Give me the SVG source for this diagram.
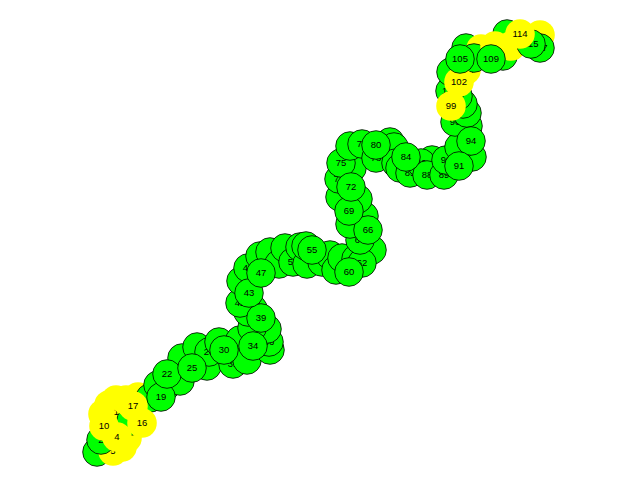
<svg xmlns="http://www.w3.org/2000/svg" width="640" height="480" viewBox="0 0 640 480">
<style>
.g{fill:#00ff00;stroke:#000;stroke-width:0.8}
.y{fill:#ffff00;stroke:none}
text{font-family:"Liberation Sans",Arial,sans-serif;font-size:9.5px;text-anchor:middle;fill:#000}
</style>
<rect width="640" height="480" fill="#fff"/>
<g id="connectors"></g>
<g id="nodes">
<g id="n1"><circle class="g" cx="97" cy="452" r="14.3"/></g>
<g id="n6"><circle class="y" cx="122" cy="447" r="14.8"/></g>
<g id="n5"><circle class="y" cx="113" cy="451" r="14.8"/><text x="113" y="454.4">5</text></g>
<g id="n2"><circle class="g" cx="101" cy="440" r="14.3"/><text x="101" y="443.4">2</text></g>
<g id="n3"><circle class="y" cx="113" cy="424" r="14.8"/></g>
<g id="n7"><circle class="y" cx="127" cy="438" r="14.8"/></g>
<g id="n8"><circle class="y" cx="103" cy="414" r="14.8"/></g>
<g id="n9"><circle class="y" cx="109" cy="405" r="14.8"/></g>
<g id="n11"><circle class="y" cx="116" cy="400" r="14.8"/></g>
<g id="n12"><circle class="y" cx="119" cy="412" r="14.8"/><text x="119" y="415.4">12</text></g>
<g id="n13"><circle class="g" cx="131" cy="421" r="14.3"/></g>
<g id="n14"><circle class="y" cx="126" cy="400" r="14.8"/></g>
<g id="n15"><circle class="y" cx="138" cy="397" r="14.8"/></g>
<g id="n18"><circle class="g" cx="150" cy="398" r="14.3"/></g>
<g id="n20"><circle class="g" cx="166" cy="386" r="14.3"/></g>
<g id="n21"><circle class="g" cx="158" cy="385" r="14.3"/></g>
<g id="n23"><circle class="g" cx="180" cy="381" r="14.3"/></g>
<g id="n24"><circle class="g" cx="182" cy="358" r="14.3"/></g>
<g id="n26"><circle class="g" cx="197" cy="347" r="14.3"/></g>
<g id="n27"><circle class="g" cx="207" cy="366" r="14.3"/></g>
<g id="n28"><circle class="g" cx="209" cy="352" r="14.3"/><text x="209" y="355.4">28</text></g>
<g id="n29"><circle class="g" cx="219" cy="342" r="14.3"/></g>
<g id="n31"><circle class="g" cx="233" cy="364" r="14.3"/><text x="233" y="367.4">31</text></g>
<g id="n32"><circle class="g" cx="240" cy="340" r="14.3"/></g>
<g id="n33"><circle class="g" cx="247" cy="360" r="14.3"/></g>
<g id="n35"><circle class="g" cx="270" cy="350" r="14.3"/></g>
<g id="n36"><circle class="g" cx="269" cy="342" r="14.3"/><text x="269" y="345.4">36</text></g>
<g id="n37"><circle class="g" cx="267" cy="329" r="14.3"/></g>
<g id="n38"><circle class="g" cx="252" cy="328" r="14.3"/></g>
<g id="n40"><circle class="g" cx="253" cy="309" r="14.3"/></g>
<g id="n41"><circle class="g" cx="248" cy="312" r="14.3"/></g>
<g id="n42"><circle class="g" cx="240" cy="303" r="14.3"/><text x="240" y="306.4">42</text></g>
<g id="n44"><circle class="g" cx="241" cy="281" r="14.3"/></g>
<g id="n45"><circle class="g" cx="248" cy="268" r="14.3"/><text x="248" y="271.4">45</text></g>
<g id="n46"><circle class="g" cx="260" cy="256" r="14.3"/></g>
<g id="n48"><circle class="g" cx="270" cy="252" r="14.3"/></g>
<g id="n49"><circle class="g" cx="279" cy="264" r="14.3"/></g>
<g id="n50"><circle class="g" cx="285" cy="248" r="14.3"/></g>
<g id="n51"><circle class="g" cx="293" cy="262" r="14.3"/><text x="293" y="265.4">51</text></g>
<g id="n52"><circle class="g" cx="300" cy="247" r="14.3"/></g>
<g id="n53"><circle class="g" cx="307" cy="264" r="14.3"/></g>
<g id="n54"><circle class="g" cx="306" cy="246" r="14.3"/></g>
<g id="n56"><circle class="g" cx="322" cy="262" r="14.3"/></g>
<g id="n57"><circle class="g" cx="330" cy="255" r="14.3"/></g>
<g id="n58"><circle class="g" cx="336" cy="270" r="14.3"/></g>
<g id="n59"><circle class="g" cx="342" cy="258" r="14.3"/></g>
<g id="n63"><circle class="g" cx="372" cy="250" r="14.3"/></g>
<g id="n61"><circle class="g" cx="356" cy="259" r="14.3"/></g>
<g id="n62"><circle class="g" cx="362" cy="263" r="14.3"/><text x="362" y="266.4">62</text></g>
<g id="n64"><circle class="g" cx="360" cy="240" r="14.3"/><text x="360" y="243.4">64</text></g>
<g id="n65"><circle class="g" cx="356" cy="222" r="14.3"/></g>
<g id="n67"><circle class="g" cx="364" cy="216" r="14.3"/></g>
<g id="n68"><circle class="g" cx="350" cy="224" r="14.3"/></g>
<g id="n70"><circle class="g" cx="358" cy="199" r="14.3"/></g>
<g id="n71"><circle class="g" cx="340" cy="197" r="14.3"/></g>
<g id="n73"><circle class="g" cx="339" cy="179" r="14.3"/><text x="339" y="182.4">73</text></g>
<g id="n74"><circle class="g" cx="352" cy="168" r="14.3"/></g>
<g id="n75"><circle class="g" cx="341" cy="163" r="14.3"/><text x="341" y="166.4">75</text></g>
<g id="n76"><circle class="g" cx="350" cy="146" r="14.3"/></g>
<g id="n77"><circle class="g" cx="362" cy="144" r="14.3"/><text x="362" y="147.4">77</text></g>
<g id="n78"><circle class="g" cx="376" cy="158" r="14.3"/><text x="376" y="161.4">78</text></g>
<g id="n79"><circle class="g" cx="390" cy="142" r="14.3"/></g>
<g id="n81"><circle class="g" cx="394" cy="147" r="14.3"/></g>
<g id="n82"><circle class="g" cx="396" cy="163" r="14.3"/></g>
<g id="n83"><circle class="g" cx="400" cy="168" r="14.3"/></g>
<g id="n85"><circle class="g" cx="410" cy="173" r="14.3"/><text x="410" y="176.4">85</text></g>
<g id="n87"><circle class="g" cx="432" cy="160" r="14.3"/></g>
<g id="n86"><circle class="g" cx="421" cy="163" r="14.3"/><text x="421" y="166.4">86</text></g>
<g id="n88"><circle class="g" cx="427" cy="175" r="14.3"/><text x="427" y="178.4">88</text></g>
<g id="n89"><circle class="g" cx="444" cy="175" r="14.3"/><text x="444" y="178.4">89</text></g>
<g id="n90"><circle class="g" cx="446" cy="160" r="14.3"/><text x="446" y="163.4">90</text></g>
<g id="n92"><circle class="g" cx="472" cy="157" r="14.3"/></g>
<g id="n93"><circle class="g" cx="459" cy="147" r="14.3"/></g>
<g id="n95"><circle class="g" cx="468" cy="126" r="14.3"/></g>
<g id="n96"><circle class="g" cx="455" cy="122" r="14.3"/><text x="455" y="125.4">96</text></g>
<g id="n97"><circle class="g" cx="467" cy="113" r="14.3"/></g>
<g id="n98"><circle class="g" cx="463" cy="104" r="14.3"/></g>
<g id="n100"><circle class="g" cx="458" cy="96" r="14.3"/></g>
<g id="n101"><circle class="g" cx="450" cy="91" r="14.3"/><text x="450" y="94.4">101</text></g>
<g id="n103"><circle class="g" cx="451" cy="72" r="14.3"/></g>
<g id="n104"><circle class="y" cx="466" cy="70" r="14.8"/><text x="466" y="73.4">104</text></g>
<g id="n106"><circle class="g" cx="466" cy="48" r="14.3"/></g>
<g id="n108"><circle class="y" cx="481" cy="49" r="14.8"/></g>
<g id="n107"><circle class="g" cx="474" cy="58" r="14.3"/></g>
<g id="n111"><circle class="g" cx="507" cy="34" r="14.3"/></g>
<g id="n113"><circle class="g" cx="503" cy="56" r="14.3"/></g>
<g id="n110"><circle class="y" cx="495" cy="46" r="14.8"/></g>
<g id="n112"><circle class="y" cx="511" cy="46" r="14.8"/></g>
<g id="n116"><circle class="y" cx="540" cy="35" r="14.8"/></g>
<g id="n117"><circle class="g" cx="540" cy="48" r="14.3"/><text x="540" y="51.4">117</text></g>
<g id="n115"><circle class="g" cx="531" cy="44" r="14.3"/><text x="531" y="47.4">115</text></g>
<g id="n4"><circle class="y" cx="117" cy="437" r="14.8"/><text x="117" y="440.4">4</text></g>
<g id="n10"><circle class="y" cx="104" cy="426" r="14.8"/><text x="104" y="429.4">10</text></g>
<g id="n16"><circle class="y" cx="142" cy="423" r="14.8"/><text x="142" y="426.4">16</text></g>
<g id="n17"><circle class="y" cx="133" cy="406" r="14.8"/><text x="133" y="409.4">17</text></g>
<g id="n19"><circle class="g" cx="161" cy="397" r="14.3"/><text x="161" y="400.4">19</text></g>
<g id="n22"><circle class="g" cx="167" cy="374" r="14.3"/><text x="167" y="377.4">22</text></g>
<g id="n25"><circle class="g" cx="192" cy="368" r="14.3"/><text x="192" y="371.4">25</text></g>
<g id="n30"><circle class="g" cx="224" cy="350" r="14.3"/><text x="224" y="353.4">30</text></g>
<g id="n34"><circle class="g" cx="253" cy="346" r="14.3"/><text x="253" y="349.4">34</text></g>
<g id="n39"><circle class="g" cx="261" cy="318" r="14.3"/><text x="261" y="321.4">39</text></g>
<g id="n43"><circle class="g" cx="249" cy="293" r="14.3"/><text x="249" y="296.4">43</text></g>
<g id="n47"><circle class="g" cx="261" cy="273" r="14.3"/><text x="261" y="276.4">47</text></g>
<g id="n55"><circle class="g" cx="312" cy="250" r="14.3"/><text x="312" y="253.4">55</text></g>
<g id="n60"><circle class="g" cx="349" cy="272" r="14.3"/><text x="349" y="275.4">60</text></g>
<g id="n66"><circle class="g" cx="368" cy="230" r="14.3"/><text x="368" y="233.4">66</text></g>
<g id="n69"><circle class="g" cx="349" cy="211" r="14.3"/><text x="349" y="214.4">69</text></g>
<g id="n72"><circle class="g" cx="351" cy="187" r="14.3"/><text x="351" y="190.4">72</text></g>
<g id="n80"><circle class="g" cx="376" cy="145" r="14.3"/><text x="376" y="148.4">80</text></g>
<g id="n84"><circle class="g" cx="406" cy="157" r="14.3"/><text x="406" y="160.4">84</text></g>
<g id="n94"><circle class="g" cx="471" cy="141" r="14.3"/><text x="471" y="144.4">94</text></g>
<g id="n91"><circle class="g" cx="459" cy="166" r="14.3"/><text x="459" y="169.4">91</text></g>
<g id="n99"><circle class="y" cx="451" cy="106" r="14.8"/><text x="451" y="109.4">99</text></g>
<g id="n102"><circle class="y" cx="459" cy="82" r="14.8"/><text x="459" y="85.4">102</text></g>
<g id="n105"><circle class="g" cx="460" cy="59" r="14.3"/><text x="460" y="62.4">105</text></g>
<g id="n109"><circle class="g" cx="491" cy="59" r="14.3"/><text x="491" y="62.4">109</text></g>
<g id="n114"><circle class="y" cx="520" cy="34" r="14.8"/><text x="520" y="37.4">114</text></g>
</g>
</svg>
